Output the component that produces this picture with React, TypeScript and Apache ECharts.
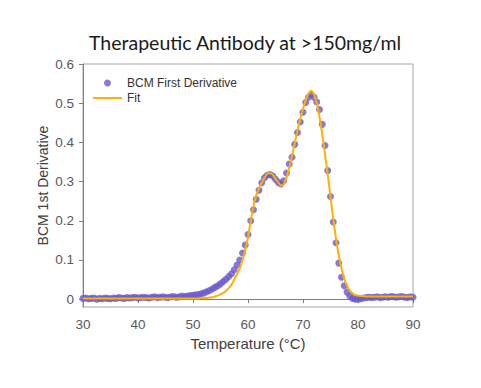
import React, { useEffect, useRef } from "react";
import * as echarts from "echarts";

const titleText = "Therapeutic Antibody at >150mg/ml";
const xName = "Temperature (°C)";
const yName = "BCM 1st Derivative";
const xTicks = [30, 40, 50, 60, 70, 80, 90];
const yTicks = [0, 0.1, 0.2, 0.3, 0.4, 0.5, 0.6];

// temperatures sampled every 0.5 °C from 30 to 90
const tStart = 30;
const tStep = 0.5;

const bcmValues = [
  0.002, 0.003, 0.001, 0.002, 0.003, 0.000, 0.002, 0.001, 0.003, 0.002,
  0.001, 0.003, 0.002, 0.004, 0.003, 0.002, 0.004, 0.003, 0.004, 0.005,
  0.003, 0.004, 0.005, 0.004, 0.003, 0.005, 0.006, 0.004, 0.005, 0.006,
  0.005, 0.004, 0.006, 0.007, 0.005, 0.006, 0.008, 0.007, 0.008, 0.009,
  0.010, 0.011, 0.012, 0.014, 0.016, 0.019, 0.022, 0.026, 0.030, 0.034,
  0.039, 0.045, 0.051, 0.058, 0.065, 0.075, 0.087, 0.100, 0.118, 0.138,
  0.165, 0.200, 0.228, 0.255, 0.278, 0.297, 0.310, 0.316, 0.318, 0.314,
  0.306, 0.298, 0.294, 0.302, 0.322, 0.345, 0.362, 0.395, 0.425, 0.452,
  0.477, 0.502, 0.515, 0.522, 0.515, 0.503, 0.484, 0.446, 0.392, 0.328,
  0.262, 0.197, 0.144, 0.092, 0.056, 0.034, 0.018, 0.008, 0.002, 0.000,
  0.000, 0.001, 0.003, 0.004, 0.005, 0.004, 0.005, 0.006, 0.004, 0.005,
  0.006, 0.005, 0.007, 0.006, 0.005, 0.006, 0.007, 0.005, 0.004, 0.006,
  0.005,
];

const fitValues = [
  0.002, 0.002, 0.002, 0.002, 0.002, 0.002, 0.002, 0.002, 0.002, 0.002,
  0.002, 0.002, 0.002, 0.002, 0.002, 0.002, 0.002, 0.002, 0.002, 0.002,
  0.002, 0.002, 0.002, 0.002, 0.002, 0.002, 0.002, 0.002, 0.002, 0.002,
  0.002, 0.002, 0.002, 0.002, 0.002, 0.002, 0.002, 0.002, 0.002, 0.002,
  0.002, 0.002, 0.002, 0.003, 0.003, 0.003, 0.004, 0.005, 0.007, 0.009,
  0.012, 0.016, 0.021, 0.028, 0.037, 0.050, 0.064, 0.078, 0.100, 0.125,
  0.158, 0.200, 0.238, 0.265, 0.283, 0.297, 0.310, 0.320, 0.322, 0.317,
  0.307, 0.298, 0.290, 0.293, 0.310, 0.335, 0.365, 0.398, 0.430, 0.460,
  0.486, 0.508, 0.525, 0.532, 0.522, 0.500, 0.465, 0.420, 0.370, 0.318,
  0.262, 0.205, 0.155, 0.112, 0.078, 0.052, 0.034, 0.022, 0.015, 0.011,
  0.009, 0.008, 0.008, 0.007, 0.007, 0.007, 0.007, 0.007, 0.007, 0.007,
  0.007, 0.007, 0.007, 0.007, 0.007, 0.007, 0.007, 0.007, 0.007, 0.007,
  0.007,
];

const temps = bcmValues.map((_, i) => tStart + i * tStep);

export default function App() {
  const ref = useRef<HTMLDivElement>(null);
  useEffect(() => {
    document.body.style.margin = "0";
    if (!ref.current) return;
    const chart = echarts.init(ref.current, null, { renderer: "svg" });
    const font = "'Liberation Sans', Arial, sans-serif";
    chart.setOption({
      animation: false,
      backgroundColor: "#ffffff",
      title: {
        text: titleText,
        left: 89,
        top: 32,
        padding: 0,
        textStyle: {
          fontFamily: "Lato, 'Open Sans', sans-serif",
          fontSize: 19.5,
          fontWeight: "normal",
          color: "#1a1a1a",
        },
      },
      legend: {
        orient: "vertical",
        left: 92,
        top: 76,
        padding: 0,
        itemGap: 1,
        itemWidth: 29,
        itemHeight: 7,
        textStyle: { fontFamily: font, fontSize: 12, color: "#333", lineHeight: 14 },
        data: [
          { name: "BCM First Derivative", icon: "circle" },
          { name: "Fit", itemStyle: { color: "rgba(0,0,0,0)", opacity: 0, borderWidth: 0 } },
        ],
      },
      grid: {
        left: 83,
        right: 68,
        top: 64,
        bottom: 81,
        show: true,
        borderColor: "#a6a6a6",
        borderWidth: 1,
      },
      xAxis: {
        type: "value",
        min: 30,
        max: 90,
        interval: 10,
        name: xName,
        nameLocation: "middle",
        nameGap: 29,
        nameMoveOverlap: false,
        nameTextStyle: { fontFamily: font, fontSize: 15, color: "#404040" },
        axisLine: { show: true, lineStyle: { color: "#7f7f7f", width: 1 } },
        axisTick: { show: true, length: 4, lineStyle: { color: "#7f7f7f" }, customValues: xTicks },
        axisLabel: { fontFamily: font, fontSize: 13.5, color: "#595959", margin: 10, customValues: xTicks },
        splitLine: { show: false },
      },
      yAxis: {
        type: "value",
        min: -0.02,
        max: 0.6,
        name: yName,
        nameLocation: "middle",
        nameGap: 33,
        nameMoveOverlap: false,
        nameTextStyle: { fontFamily: font, fontSize: 14, color: "#404040" },
        axisLine: { show: true, lineStyle: { color: "#7f7f7f", width: 1 } },
        axisTick: { show: true, length: 4, lineStyle: { color: "#7f7f7f" }, customValues: yTicks },
        axisLabel: {
          fontFamily: font,
          fontSize: 13.5,
          color: "#595959",
          margin: 9,
          customValues: yTicks,
          formatter: (v: number) => String(Math.round(v * 10) / 10),
        },
        splitLine: { show: false },
      },
      series: [
        {
          name: "BCM First Derivative",
          type: "scatter",
          symbol: "circle",
          symbolSize: 7,
          itemStyle: { color: "#6a5acd" },
          data: temps.map((t, i) => [t, bcmValues[i]]),
        },
        {
          name: "Fit",
          type: "line",
          showSymbol: false,
          symbol: "none",
          smooth: 0.3,
          lineStyle: { color: "#ffb000", width: 2 },
          itemStyle: { color: "#ffb000" },
          data: temps.map((t, i) => [t, fitValues[i]]),
        },
      ],
    });
    return () => chart.dispose();
  }, []);
  return <div ref={ref} style={{ width: 481, height: 388 }} />;
}
